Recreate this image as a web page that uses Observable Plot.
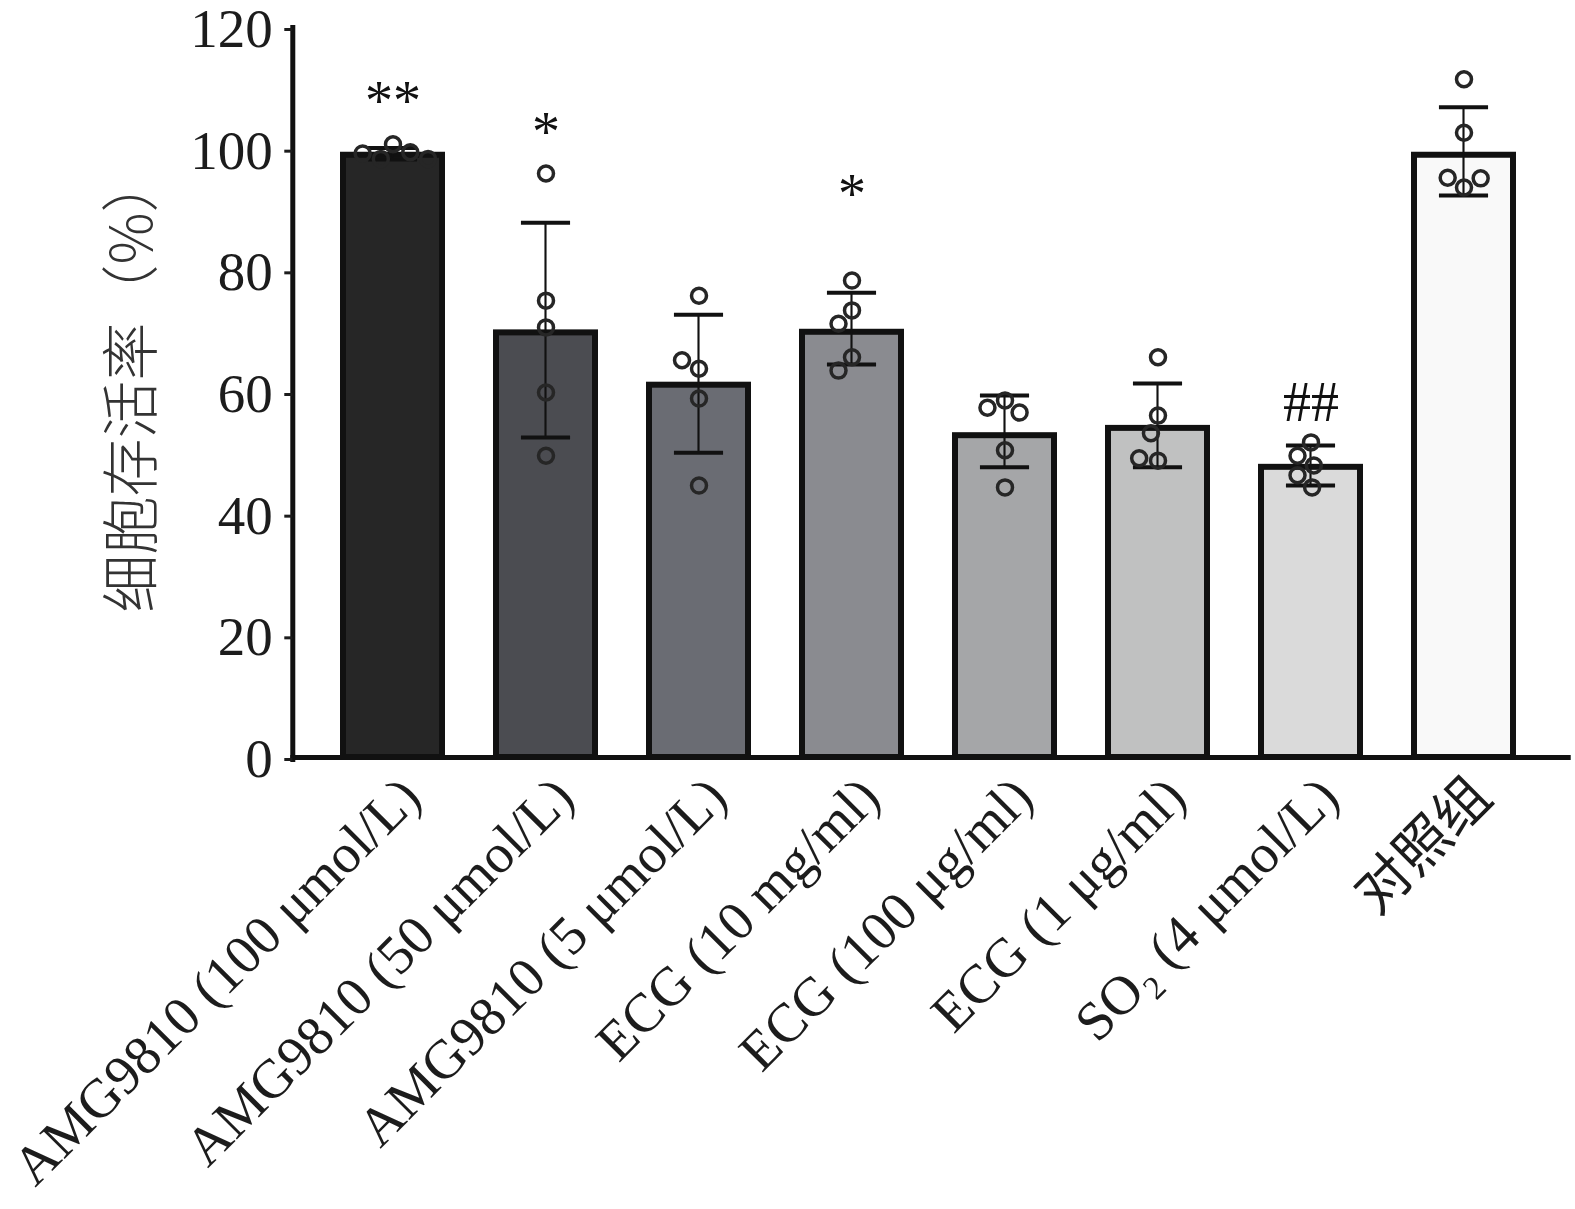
<!DOCTYPE html>
<html>
<head>
<meta charset="utf-8">
<script src="https://cdn.jsdelivr.net/npm/d3@7"></script>
<script src="https://cdn.jsdelivr.net/npm/@observablehq/plot@0.6"></script>
<style>
  html, body { margin: 0; padding: 0; background: #fff; }
</style>
</head>
<body>
<div id="chart"></div>
<script>
// ---- data ----
const groups = [
  "AMG9810 (100 μmol/L)",
  "AMG9810 (50 μmol/L)",
  "AMG9810 (5 μmol/L)",
  "ECG (10 mg/ml)",
  "ECG (100 μg/ml)",
  "ECG (1 μg/ml)",
  "SO₂ (4 μmol/L)",
  "对照组"
];
const means   = [99.0, 69.8, 61.2, 69.9, 52.9, 54.1, 47.7, 99.0];
const errLow  = [98.3, 52.6, 50.1, 64.6, 47.7, 47.7, 44.7, 92.4];
const errHigh = [100.2, 87.9, 72.8, 76.4, 59.5, 61.5, 51.3, 106.9];
const replicates = [
  [100.8, 98.4, 99.5, 99.3, 98.4],
  [96.0, 75.1, 70.7, 60.0, 49.6],
  [75.9, 63.9, 65.3, 59.0, 44.7],
  [78.4, 73.5, 71.3, 65.8, 63.6],
  [58.7, 57.5, 56.7, 50.5, 44.4],
  [65.8, 56.2, 53.3, 48.8, 49.2],
  [51.8, 49.6, 48.0, 46.4, 44.4],
  [111.5, 102.7, 93.7, 95.3, 95.2]
];
const sigLabels = ["**", "*", "", "*", "", "", "##", ""];
const sigValues = [109.2, 104.2, null, 94.0, null, null, 59.8, null];
const barFills = ["#262626", "#4b4c51", "#6a6c73", "#8a8b90", "#a5a6a8", "#c0c1c1", "#dadada", "#f9f9f9"];
const yTicks = [0, 20, 40, 60, 80, 100, 120];
const yLabel = "细胞存活率（%）";

// ---- tables built from the arrays ----
const bars = groups.map((g, i) => ({group: g, mean: means[i], lo: errLow[i], hi: errHigh[i], fill: barFills[i]}));
const points = groups.flatMap((g, i) => replicates[i].map(v => ({group: g, value: v})));
const notes = groups.map((g, i) => ({group: g, text: sigLabels[i], y: sigValues[i]})).filter(d => d.text);

// ---- layout ----
const W = 1575, H = 1209;
const ML = 290, MR = 8, MT = 27, MB = 452;
const padIn = 0.35, padOut = 0.33;
const band = d3.scaleBand(groups, [ML, W - MR]).paddingInner(padIn).paddingOuter(padOut);
const bw = band.bandwidth();
const outerGap = band(groups[0]) - ML;  // distance from frame edge to first facet
const capW = 50, stemW = 3;
const serif = "'Liberation Serif', 'Times New Roman', 'Noto Sans CJK SC', serif";

const chart = Plot.plot({
  width: W,
  height: H,
  marginLeft: ML,
  marginRight: MR,
  marginTop: MT,
  marginBottom: MB,
  style: {fontFamily: serif, fontSize: "54px", color: "#1c1c1c", background: "#fff", overflow: "visible"},
  fx: {domain: groups, paddingInner: padIn, paddingOuter: padOut, label: null},
  y: {domain: [0, 120], label: null},
  marks: [
    Plot.barY(bars, {fx: "group", y: "mean", fill: "fill", stroke: "#111", strokeWidth: 6}),
    Plot.barY(bars, {fx: "group", y1: "lo", y2: "hi", fill: "#111",
      insetLeft: (bw - stemW) / 2, insetRight: (bw - stemW) / 2}),
    Plot.tickY(bars, {fx: "group", y: "hi", stroke: "#111", strokeWidth: 4, inset: (bw - capW) / 2}),
    Plot.tickY(bars, {fx: "group", y: "lo", stroke: "#111", strokeWidth: 4, inset: (bw - capW) / 2}),
    Plot.dot(points, Plot.dodgeX({anchor: "middle", padding: 4}, {fx: "group", y: "value", r: 7.5, stroke: "#262626", strokeWidth: 3.5, fill: "none"})),
    Plot.text(notes, {fx: "group", y: "y", text: "text", fontSize: 56, fill: "#111", dy: 9}),
    Plot.frame({anchor: "bottom", facet: "super", stroke: "#111", strokeWidth: 5,
      insetLeft: -outerGap, insetRight: -(outerGap + 4)}),
    Plot.frame({anchor: "left", facet: "super", stroke: "#111", strokeWidth: 5,
      insetLeft: -outerGap, insetBottom: -2}),
    Plot.text([yLabel], {facet: "super", frameAnchor: "left", rotate: -90, dx: -210, dy: 220,
      fontSize: 58, fill: "#333", fontFamily: "'Noto Sans CJK SC', sans-serif", fontWeight: 300}),
    Plot.axisY({
      ticks: yTicks,
      tickSize: 8,
      tickPadding: 12,
      strokeWidth: 3,
      fontSize: 55,
      dx: -outerGap,
      dy: 2,
      label: null
    }),
    Plot.axisFx({
      anchor: "bottom",
      tickRotate: -45,
      tickSize: 0,
      tickPadding: 30,
      dx: 18,
      fontSize: 55,
      label: null
    })
  ]
});
document.getElementById("chart").appendChild(chart);
</script>
</body>
</html>
